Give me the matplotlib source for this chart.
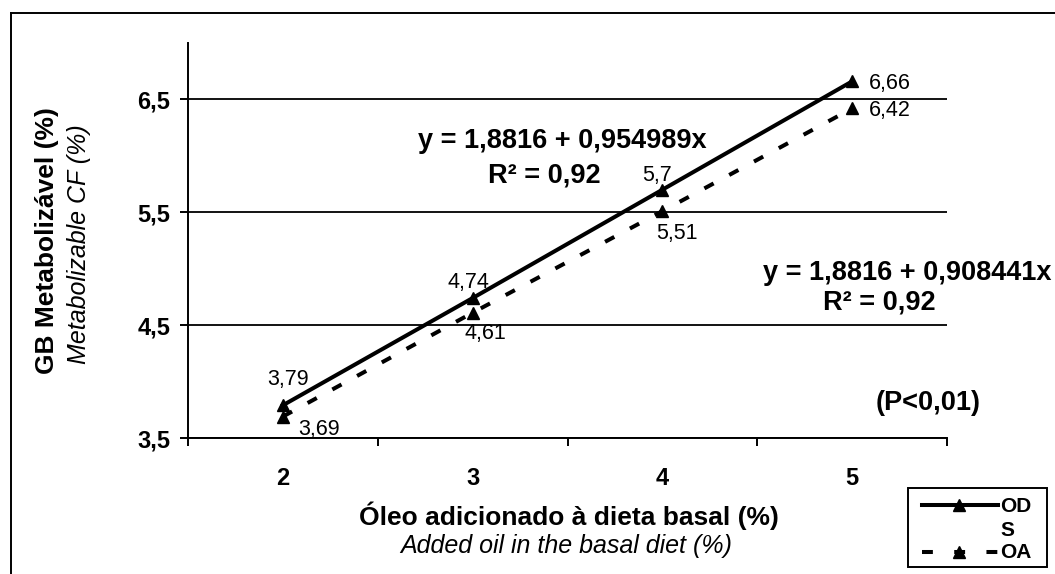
import matplotlib.pyplot as plt
from matplotlib.lines import Line2D
from matplotlib.patches import Rectangle

# data
doses = [2, 3, 4, 5]
od = [3.79, 4.74, 5.70, 6.66]
oa = [3.69, 4.61, 5.51, 6.42]
od_labels = ['3,79', '4,74', '5,7', '6,66']
oa_labels = ['3,69', '4,61', '5,51', '6,42']
dose_labels = ['2', '3', '4', '5']
yticks = [3.5, 4.5, 5.5, 6.5]
ytick_labels = ['3,5', '4,5', '5,5', '6,5']

W, H = 1055, 574
plt.rcParams['font.family'] = 'Liberation Sans'


def fx(x):
    return x / W


def fy(y):
    return 1 - y / H


fig = plt.figure(figsize=(W / 100, H / 100), dpi=100)
ax = fig.add_axes([fx(188), fy(438), (947 - 188) / W, (438 - 43) / H])

dash = (0, (2.6, 4.4))
ax.plot(doses, od, color='black', lw=2.9, marker='^', ms=8, zorder=3)
ax.plot(doses, oa, color='black', lw=2.9, ls=dash, marker='^', ms=8, zorder=3)

# data labels (offsets in pixels)
od_off = [(5, 20), (-4, 10), (-5, 8.5), (38, -7.5)]
oa_off = [(36, -18), (13, -26.5), (15, -28), (38, -7.5)]
for x, y, s, o in zip(doses, od, od_labels, od_off):
    ax.annotate(s, (x, y), xytext=o, textcoords='offset pixels',
                ha='center', va='baseline', fontsize=15.5)
for x, y, s, o in zip(doses, oa, oa_labels, oa_off):
    ax.annotate(s, (x, y), xytext=o, textcoords='offset pixels',
                ha='center', va='baseline', fontsize=15.5)

ax.set_xlim(1.5, 5.5)
ax.set_ylim(3.5, 7.0)
ax.set_yticks(yticks)
ax.set_yticklabels(ytick_labels, fontsize=17, fontweight='bold')
ax.set_xticks([1.5, 2.5, 3.5, 4.5, 5.5])
ax.set_xticklabels([])
ax.set_xticks(doses, minor=True)
ax.set_xticklabels(dose_labels, minor=True, fontsize=17, fontweight='bold')
ax.tick_params(axis='x', which='minor', length=0, pad=21)
ax.tick_params(axis='x', which='major', length=5.8, width=1.4)
ax.tick_params(axis='y', length=5.8, width=1.4, pad=7)
ax.spines['top'].set_visible(False)
ax.spines['right'].set_visible(False)
ax.spines['left'].set_linewidth(1.4)
ax.spines['bottom'].set_linewidth(1.4)
ax.yaxis.grid(True, color='black', lw=1.3)
ax.set_axisbelow(True)

# equations
fig.text(fx(562), fy(148), 'y = 1,8816 + 0,954989x', ha='center', va='baseline',
         fontsize=19.5, fontweight='bold')
fig.text(fx(544), fy(182), 'R² = 0,92', ha='center', va='baseline',
         fontsize=19.5, fontweight='bold')
fig.text(fx(907), fy(280), 'y = 1,8816 + 0,908441x', ha='center', va='baseline',
         fontsize=19.5, fontweight='bold')
fig.text(fx(879), fy(310), 'R² = 0,92', ha='center', va='baseline',
         fontsize=19.5, fontweight='bold')
fig.text(fx(928), fy(410), '(P<0,01)', ha='center', va='baseline',
         fontsize=19.5, fontweight='bold')

# axis titles
fig.text(fx(569), fy(525), 'Óleo adicionado à dieta basal (%)', ha='center', va='baseline',
         fontsize=19, fontweight='bold')
fig.text(fx(566), fy(553), 'Added oil in the basal diet (%)', ha='center', va='baseline',
         fontsize=18, fontstyle='italic', fontweight='medium')
fig.text(fx(47), fy(241), 'GB Metabolizável (%)', ha='center', va='center', rotation=90,
         fontsize=19, fontweight='bold')
fig.text(fx(79), fy(244), 'Metabolizable CF (%)', ha='center', va='center', rotation=90,
         fontsize=18, fontstyle='italic', fontweight='medium')

# outer frame
fig.add_artist(Line2D([fx(10.5), fx(10.5)], [0, fy(12.5)], transform=fig.transFigure,
                      color='black', lw=1.4))
fig.add_artist(Line2D([fx(10.5), 1], [fy(12.5), fy(12.5)], transform=fig.transFigure,
                      color='black', lw=1.4))

# legend
fig.add_artist(Rectangle((fx(908), fy(567)), 139 / W, 79 / H, transform=fig.transFigure,
                         fill=False, edgecolor='black', lw=1.4))
fig.add_artist(Line2D([fx(922), fx(998)], [fy(505), fy(505)], transform=fig.transFigure,
                      color='black', lw=2.9))
fig.add_artist(Line2D([fx(922), fx(998)], [fy(552), fy(552)], transform=fig.transFigure,
                      color='black', lw=2.9, ls=(0, (2.7, 5.3))))
fig.add_artist(Line2D([fx(959)], [fy(505)], transform=fig.transFigure,
                      color='black', marker='^', ms=8, ls='none'))
fig.add_artist(Line2D([fx(959)], [fy(552)], transform=fig.transFigure,
                      color='black', marker='^', ms=8, ls='none'))
fig.text(fx(1000), fy(506), 'OD', ha='left', va='center', fontsize=15, fontweight='bold')
fig.text(fx(1000), fy(530), 'S', ha='left', va='center', fontsize=15, fontweight='bold')
fig.text(fx(1000), fy(553), 'OA', ha='left', va='center', fontsize=15, fontweight='bold')

fig.savefig('out.png', dpi=100)
